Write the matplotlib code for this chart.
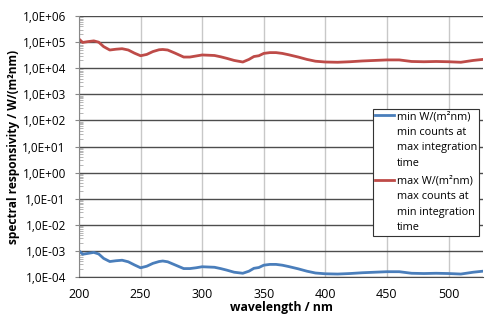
import numpy as np
import matplotlib.pyplot as plt
import matplotlib.transforms as mtransforms
from matplotlib.legend_handler import HandlerLine2D
from matplotlib.ticker import FixedLocator, FuncFormatter, LogLocator, NullFormatter

plt.rcParams['font.family'] = ['Open Sans', 'DejaVu Sans']

# wavelength in nm, values as log10(W/(m²nm))
wl = [200, 203, 207, 212, 216, 220, 225, 230, 235, 240, 245, 250, 255, 260,
      265, 268, 272, 278, 285, 290, 295, 300, 305, 310, 315, 320, 326, 333,
      338, 342, 346, 350, 355, 360, 365, 370, 378, 385, 392, 400, 410, 420,
      430, 440, 450, 460, 470, 480, 490, 500, 510, 520, 528]
log_max = [5.12, 4.99, 5.02, 5.05, 5.00, 4.83, 4.70, 4.73, 4.75, 4.70, 4.58,
           4.48, 4.53, 4.64, 4.71, 4.72, 4.70, 4.58, 4.43, 4.43, 4.47, 4.51,
           4.50, 4.49, 4.44, 4.38, 4.30, 4.24, 4.34, 4.45, 4.48, 4.57, 4.60,
           4.60, 4.57, 4.52, 4.43, 4.34, 4.27, 4.24, 4.23, 4.25, 4.28, 4.30,
           4.32, 4.32, 4.26, 4.25, 4.26, 4.25, 4.23, 4.30, 4.34]
log_min = [-3.00, -3.13, -3.10, -3.06, -3.12, -3.29, -3.41, -3.38, -3.36,
           -3.42, -3.54, -3.65, -3.59, -3.48, -3.41, -3.39, -3.42, -3.54,
           -3.68, -3.68, -3.65, -3.61, -3.62, -3.63, -3.68, -3.74, -3.82,
           -3.86, -3.78, -3.67, -3.64, -3.55, -3.52, -3.52, -3.55, -3.60,
           -3.69, -3.78, -3.85, -3.88, -3.89, -3.87, -3.84, -3.82, -3.80,
           -3.80, -3.86, -3.87, -3.86, -3.87, -3.89, -3.82, -3.78]

min_label = 'min W/(m²nm)\nmin counts at\nmax integration\ntime'
max_label = 'max W/(m²nm)\nmax counts at\nmin integration\ntime'

HANDLE_SHIFT = 25  # px, moves the legend line up to the first text line


class TopLineHandler(HandlerLine2D):
    """legend line next to the first text line, not the middle"""
    def create_artists(self, legend, orig_handle, xdescent, ydescent, width,
                       height, fontsize, trans):
        arts = super().create_artists(legend, orig_handle, xdescent, ydescent,
                                      width, height, fontsize, trans)
        shift = mtransforms.Affine2D().translate(0, HANDLE_SHIFT)
        for a in arts:
            a.set_transform(trans + shift)
        return arts


fig = plt.figure(figsize=(5.0, 3.22), dpi=100)
ax = fig.add_axes([0.158, 0.14, 0.808, 0.81])

l1, = ax.plot(wl, 10 ** np.array(log_min), color='#4a7ebb', lw=2.0, label=min_label)
l2, = ax.plot(wl, 10 ** np.array(log_max), color='#be4b48', lw=2.0, label=max_label)

ax.set_yscale('log')
ax.set_ylim(1e-4, 1e6)
ax.set_xlim(200, 528)

ax.yaxis.set_major_locator(FixedLocator([10.0 ** e for e in range(-4, 7)]))
ax.yaxis.set_major_formatter(FuncFormatter(
    lambda v, p: '1,0E{:+03d}'.format(int(round(np.log10(v))))))
ax.yaxis.set_minor_locator(LogLocator(base=10, subs=np.arange(2, 10), numticks=20))
ax.yaxis.set_minor_formatter(NullFormatter())
ax.set_xticks([200, 250, 300, 350, 400, 450, 500])

ax.grid(axis='y', which='major', color='#4d4d4d', lw=1.0)
ax.grid(axis='x', which='major', color='#c8c8c8', lw=1.0)
ax.set_axisbelow(True)

for s in ['top', 'right']:
    ax.spines[s].set_visible(False)
ax.spines['left'].set_color('#888888')
ax.spines['bottom'].set_color('#4d4d4d')
ax.tick_params(axis='y', which='major', length=3, color='#888888', labelsize=8.5, pad=6.5)
ax.tick_params(axis='y', which='minor', length=3, direction='in', color='#aaaaaa')
ax.tick_params(axis='x', length=0, labelsize=9, pad=8)

ax.set_xlabel('wavelength / nm', fontsize=8.8, fontweight='bold', labelpad=0)
ax.set_ylabel('spectral responsivity / W/(m²nm)', fontsize=8.6, fontweight='bold', labelpad=1.5)

leg = ax.legend(handles=[l1, l2], loc='upper left', bbox_to_anchor=(0.727, 0.644),
                borderaxespad=0, fontsize=7.8,
                frameon=True, fancybox=False, edgecolor='#333333', framealpha=1,
                handlelength=1.75, handletextpad=0.2, borderpad=0.25, labelspacing=0.65,
                handler_map={l1: TopLineHandler(), l2: TopLineHandler()})
leg.get_frame().set_linewidth(0.8)
for t in leg.get_texts():
    t.set_linespacing(1.55)

fig.savefig('out.png', dpi=100)
